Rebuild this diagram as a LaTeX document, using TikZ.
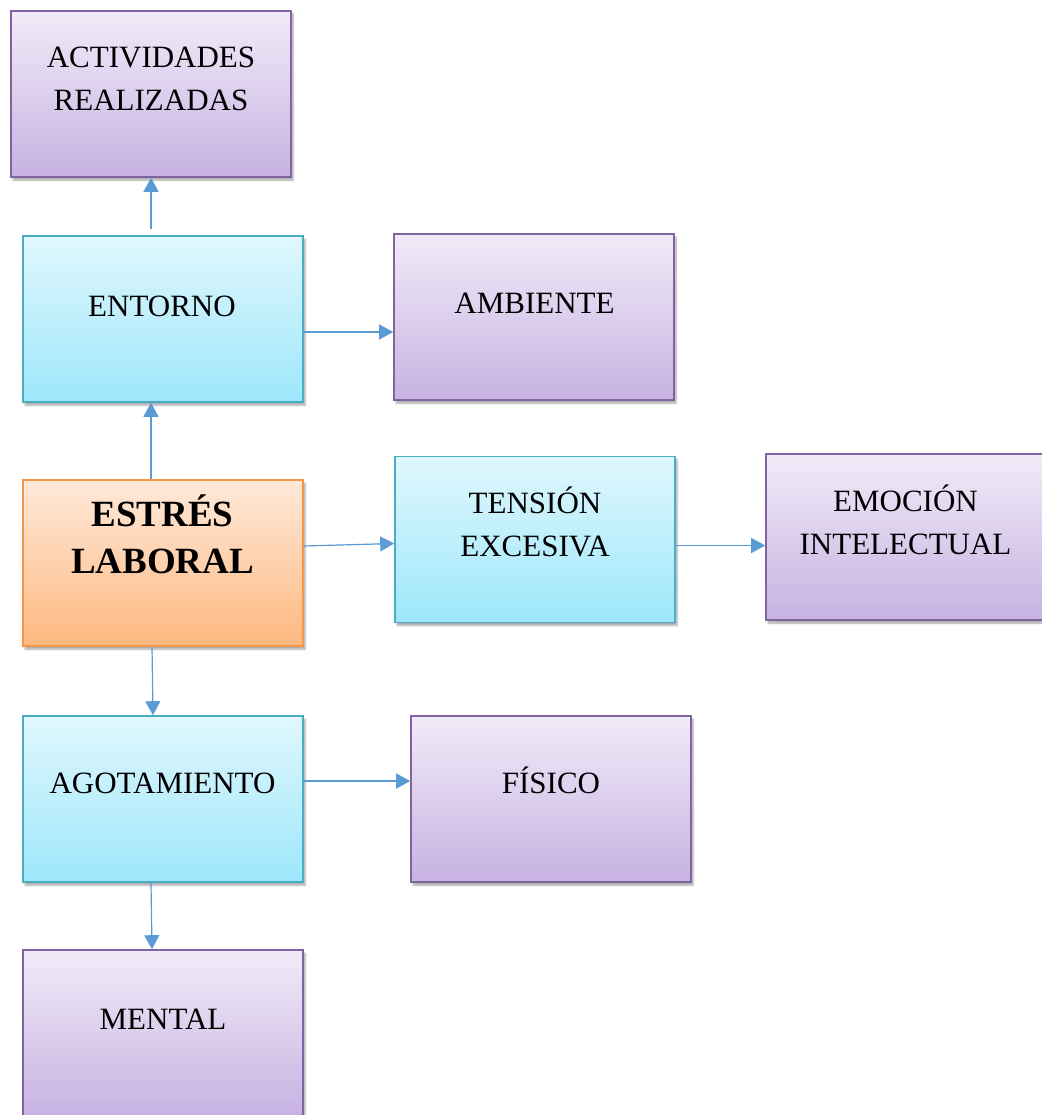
\documentclass[tikz,border=0pt]{standalone}
\usepackage{fontspec}
\setmainfont{Liberation Serif}
\usetikzlibrary{arrows.meta,shadows.blur}

\definecolor{purpleTop}{HTML}{F1EBF8}
\definecolor{purpleBot}{HTML}{C7B2E2}
\definecolor{purpleLine}{HTML}{8064A2}
\definecolor{cyanTop}{HTML}{E0F7FD}
\definecolor{cyanBot}{HTML}{9DE7FB}
\definecolor{cyanLine}{HTML}{4BACC6}
\definecolor{orangeTop}{HTML}{FFE9DA}
\definecolor{orangeBot}{HTML}{FDB87F}
\definecolor{orangeLine}{HTML}{F79646}
\definecolor{linkBlue}{HTML}{5B9BD5}

\tikzset{
  box/.style={rectangle, minimum width=280pt, minimum height=166pt, inner sep=0pt,
    line width=1.6pt,
    blur shadow={shadow xshift=2pt, shadow yshift=-3pt, shadow blur steps=6, shadow opacity=35}},
  violetbox/.style={box, draw=purpleLine, top color=purpleTop, bottom color=purpleBot},
  cyanbox/.style={box, draw=cyanLine, top color=cyanTop, bottom color=cyanBot},
  orangebox/.style={box, draw=orangeLine, top color=orangeTop, bottom color=orangeBot},
  lbl/.style={anchor=base, align=center, inner sep=0pt, font=\fontsize{31}{43}\selectfont},
  boldlbl/.style={anchor=base, align=center, inner sep=0pt, font=\fontsize{37}{47}\selectfont\bfseries},
  link/.style={draw=linkBlue, line width=1.2pt, -{Triangle[length=14pt,width=15pt]}, fill=linkBlue}
}

\begin{document}
\begin{tikzpicture}[x=1pt,y=-1pt]
\useasboundingbox (0,0) rectangle (1041,1115);

% boxes
\node[violetbox] (act) at (151,94) {};
\node[cyanbox]   (ent) at (163,319) {};
\node[violetbox] (amb) at (534,317) {};
\node[orangebox] (est) at (163,563) {};
\node[cyanbox]   (ten) at (535,539.5) {};
\node[violetbox] (emo) at (906,537) {};
\node[cyanbox]   (ago) at (163,799) {};
\node[violetbox] (fis) at (551,799) {};
\node[violetbox] (men) at (163,1033) {};

% labels (base anchor = baseline of the last line)
\node[lbl] (actT) at (151,111) {ACTIVIDADES\\REALIZADAS};
\node[lbl] (entT) at (162,316) {ENTORNO};
\node[lbl] (ambT) at (534.5,313) {AMBIENTE};
\node[boldlbl] (estT) at (162.5,573) {ESTRÉS\\LABORAL};
\node[lbl] (tenT) at (535,556) {TENSIÓN\\EXCESIVA};
\node[lbl] (emoT) at (905.5,554) {EMOCIÓN\\INTELECTUAL};
\node[lbl] (agoT) at (162.5,793.5) {AGOTAMIENTO};
\node[lbl] (fisT) at (551,793.5) {FÍSICO};
\node[lbl] (menT) at (163,1029) {MENTAL};

% connectors
\coordinate (c1) at (act.south |- ent.north);
\draw[link] ([yshift=6pt]c1) -- (act.south);
\draw[link] (act.south |- est.north) -- (act.south |- ent.south);
\draw[link] ([yshift=-13pt]ent.east) -- ([yshift=-15pt]amb.west);
\draw[link] ([yshift=17pt]est.east) -- ([yshift=-4pt]ten.west);
\draw[link] ([yshift=-6pt]ten.east) -- ([yshift=-8.5pt]emo.west);
\draw[link] ([xshift=-11pt]est.south) -- ([xshift=-10pt]ago.north);
\draw[link] ([yshift=18pt]ago.east) -- ([yshift=18pt]fis.west);
\draw[link] ([xshift=-12pt]ago.south) -- ([xshift=-11pt]men.north);
\end{tikzpicture}
\end{document}
